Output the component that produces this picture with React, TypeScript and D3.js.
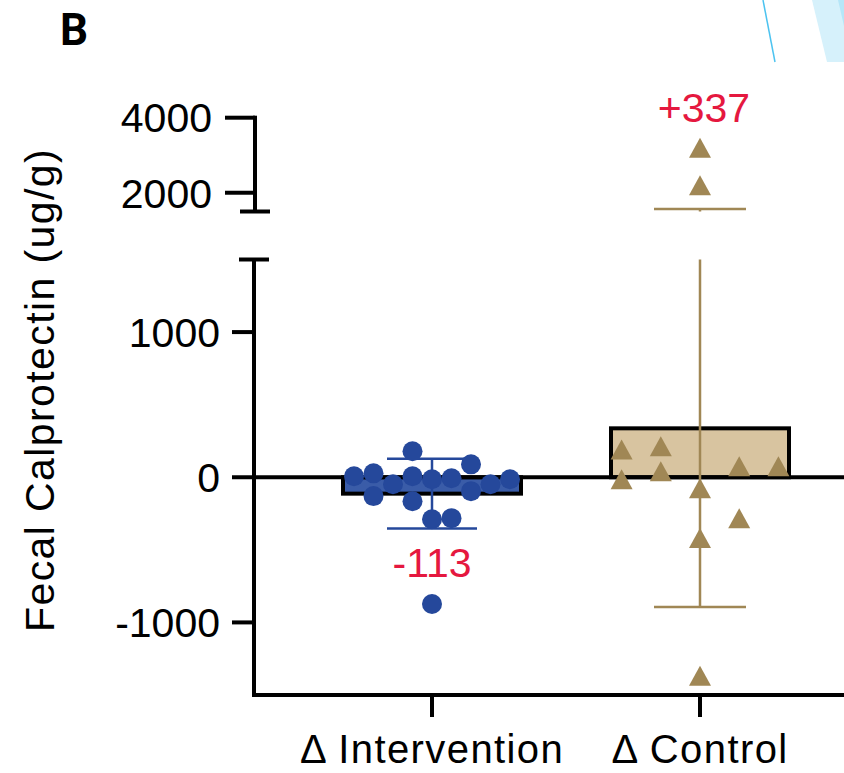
import React from "react";
import * as d3 from "d3";

const width = 844;
const height = 773;

// groups and summary values
const categories = ["Δ Intervention", "Δ Control"];
const means = [-113, 337];
const sds = [240, 1230];
const meanLabels = ["-113", "+337"];

// individual change values (ug/g)
const interventionValues = [179, 7, 27, -130, -48, 7, -165, -14, -7, 89, -96, -48, -14, -289, -282, -873];
const interventionColumns = [-1, -4, -3, -3, -2, -1, -1, 0, 1, 2, 2, 3, 4, 0, 1, 0];
const controlValues = [192, 213, -14, 41, 76, 76, -76, -282, -419, -1368, 3200, 2200];
const controlColumns = [-2, -1, -2, -1, 1, 2, 0, 1, 0, 0, 0, 0];

const lowerTicks = [-1000, 0, 1000];
const upperTicks = [2000, 4000];
const breakValue = 1500;

const axisX = 254;
const xAxisY = 695;
const font = "'Liberation Sans', Arial, Helvetica, sans-serif";
const blue = "#25489b";
const tan = "#a08755";
const red = "#e5183f";

const x = d3.scalePoint<string>().domain(categories).range([298, 834]).padding(0.5);
const yLow = d3.scaleLinear().domain([-1500, breakValue]).range([xAxisY, 259.5]);
const yHigh = d3.scaleLinear().domain([breakValue, 4000]).range([211.5, 117.7]);
const y = (v: number) => (v > breakValue ? yHigh(v) : yLow(v));

const barWidth = 178;

function ErrorBar({ cx, mean, sd, color, cap }: { cx: number; mean: number; sd: number; color: string; cap: number }) {
  const hi = mean + sd;
  const lo = mean - sd;
  const segs: [number, number][] = [];
  if (hi > breakValue) {
    segs.push([yHigh(hi), yHigh(breakValue)]);
    segs.push([yLow(breakValue), yLow(lo)]);
  } else {
    segs.push([yLow(hi), yLow(lo)]);
  }
  return (
    <g stroke={color} strokeWidth={2.5}>
      {segs.map((s, i) => (
        <line key={i} x1={cx} x2={cx} y1={s[0]} y2={s[1]} />
      ))}
      <line x1={cx - cap / 2} x2={cx + cap / 2} y1={y(hi)} y2={y(hi)} />
      <line x1={cx - cap / 2} x2={cx + cap / 2} y1={y(lo)} y2={y(lo)} />
    </g>
  );
}

const triangle = (cx: number, cy: number) =>
  `M${cx},${cy - 10}L${cx + 11},${cy + 10}L${cx - 11},${cy + 10}Z`;

export default function App() {
  const xi = x(categories[0]) as number;
  const xc = x(categories[1]) as number;
  const fills = ["#3a5ca8", "#d8c4a0"];

  return (
    <svg width={width} height={height} style={{ position: "absolute", left: 0, top: 0, background: "#fff", fontFamily: font }}>
      {/* decoration top right */}
      <polygon points="812,0 844,0 844,62 827,62" fill="#d6f1fb" />
      <polygon points="838,0 844,0 844,26" fill="#b5e6f8" />
      <line x1={763} y1={0} x2={775} y2={62} stroke="#4cc3f0" strokeWidth={1.5} />

      <text x={60} y={45} fontSize={44} fontWeight="bold" style={{ fontFamily: "'Liberation Sans Narrow', Roboto, sans-serif" }}>B</text>

      {/* bars */}
      {means.map((m, i) => {
        const cx = x(categories[i]) as number;
        return (
          <rect key={i} x={cx - barWidth / 2} width={barWidth} y={Math.min(y(m), y(0))} height={Math.abs(y(m) - y(0))}
            fill={fills[i]} stroke="#000" strokeWidth={4} />
        );
      })}

      {/* zero line */}
      <line x1={axisX} x2={width} y1={yLow(0)} y2={yLow(0)} stroke="#000" strokeWidth={4} />

      <ErrorBar cx={xi} mean={means[0]} sd={sds[0]} color={blue} cap={90} />
      <ErrorBar cx={xc} mean={means[1]} sd={sds[1]} color={tan} cap={92} />

      {interventionValues.map((v, i) => (
        <circle key={i} cx={xi + interventionColumns[i] * 19.5} cy={y(v)} r={10} fill={blue} />
      ))}
      {controlValues.map((v, i) => (
        <path key={i} d={triangle(xc + controlColumns[i] * 39.2, y(v))} fill={tan} />
      ))}

      {/* mean labels */}
      <text x={xi} y={577} textAnchor="middle" fontSize={41} fill={red}>{meanLabels[0]}</text>
      <text x={xc + 4} y={122} textAnchor="middle" fontSize={41} fill={red}>{meanLabels[1]}</text>

      {/* y axis lower */}
      <line x1={axisX} x2={axisX} y1={yLow(breakValue)} y2={xAxisY + 2} stroke="#000" strokeWidth={4} />
      <line x1={axisX - 15} x2={axisX + 15} y1={yLow(breakValue)} y2={yLow(breakValue)} stroke="#000" strokeWidth={4} />
      {lowerTicks.map((t) => (
        <g key={t}>
          <line x1={axisX - 22} x2={axisX} y1={yLow(t)} y2={yLow(t)} stroke="#000" strokeWidth={4} />
          <text x={axisX - 34} y={yLow(t)} dy="0.36em" textAnchor="end" fontSize={41}>{t}</text>
        </g>
      ))}

      {/* y axis upper */}
      <line x1={axisX + 1} x2={axisX + 1} y1={yHigh(4000) - 2} y2={yHigh(breakValue)} stroke="#000" strokeWidth={4} />
      <line x1={axisX - 14} x2={axisX + 16} y1={yHigh(breakValue)} y2={yHigh(breakValue)} stroke="#000" strokeWidth={4} />
      {upperTicks.map((t) => (
        <g key={t}>
          <line x1={axisX - 29} x2={axisX + 1} y1={yHigh(t)} y2={yHigh(t)} stroke="#000" strokeWidth={4} />
          <text x={axisX - 42} y={yHigh(t)} dy="0.36em" textAnchor="end" fontSize={41}>{t}</text>
        </g>
      ))}

      {/* x axis */}
      <line x1={axisX - 2} x2={width} y1={xAxisY} y2={xAxisY} stroke="#000" strokeWidth={4} />
      {categories.map((c) => (
        <g key={c}>
          <line x1={x(c)} x2={x(c)} y1={xAxisY} y2={xAxisY + 22} stroke="#000" strokeWidth={4} />
          <text x={x(c)} y={763} textAnchor="middle" fontSize={40} letterSpacing={1.4}>{c}</text>
        </g>
      ))}

      <text transform={`translate(54,${390}) rotate(-90)`} textAnchor="middle" fontSize={41} letterSpacing={1.4}>
        Fecal Calprotectin (ug/g)
      </text>
    </svg>
  );
}
